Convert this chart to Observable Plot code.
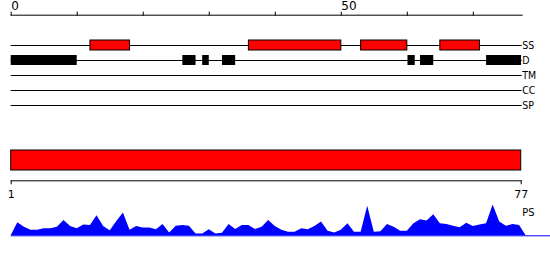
<!DOCTYPE html>
<html><head><meta charset="utf-8">
<script src="https://cdn.jsdelivr.net/npm/d3@7"></script>
<script src="https://cdn.jsdelivr.net/npm/@observablehq/plot@0.6"></script>
<style>
html,body{margin:0;padding:0;background:#fff;}
#chart{position:relative;width:550px;height:260px;overflow:hidden;}
#chart svg{position:absolute;left:0;top:0;}
</style></head><body><div id="chart"></div>
<script>
// ---- data ----
const seqLength = 77;
const axisMax = 77.4;
const trackNames = ["SS", "D", "TM", "CC", "SP"];
const ssStart = [12, 36, 53, 65];
const ssEnd = [18, 50, 60, 71];
const disStart = [0, 26, 29, 32, 60.1, 62, 72];
const disEnd = [10, 28, 30, 34, 61.2, 64, 77.3];
const axisTicks = [0, 10, 20, 30, 40, 50, 60, 70];
const axisLabels = [0, 50];
const rangeTicks = [1, 77];
const chainStart = [1];
const chainEnd = [77];
const psPos = [0,1,2,3,4,5,6,7,8,9,10,11,12,13,14,15,16,17,18,19,20,21,22,23,24,25,26,27,28,29,30,31,32,33,34,35,36,37,38,39,40,41,42,43,44,45,46,47,48,49,50,51,52,53,54,55,56,57,58,59,60,61,62,63,64,65,66,67,68,69,70,71,72,73,74,75,76,77,78];
const psValue = [0,.41,.27,.17,.17,.22,.22,.27,.48,.29,.22,.34,.32,.63,.29,.16,.45,.71,.17,.29,.24,.24,.19,.35,.09,.30,.32,.30,.06,.06,.19,.06,.08,.35,.20,.32,.32,.20,.27,.48,.29,.17,.11,.11,.22,.19,.29,.43,.14,.09,.17,.38,.11,.11,.92,.11,.13,.35,.27,.14,.14,.38,.50,.46,.66,.38,.35,.30,.25,.39,.29,.34,.38,.96,.43,.30,.35,.32,0];

// ---- tables ----
const ssData = ssStart.map((s, i) => ({track: "SS", start: s, end: ssEnd[i]}));
const disData = disStart.map((s, i) => ({track: "D", start: s, end: disEnd[i]}));
const chain = chainStart.map((s, i) => ({row: "chain", start: s, end: chainEnd[i]}));
const ps = psPos.map((p, i) => ({pos: p, value: psValue[i]}));

const labelFont = "'Liberation Sans Narrow', 'DejaVu Sans Condensed', sans-serif";
const numFont = "'DejaVu Sans', sans-serif";
const root = document.getElementById("chart");

const tracksPlot = Plot.plot({
  width: 550, height: 260,
  marginTop: 14.7, marginLeft: 10.7, marginRight: 28.3, marginBottom: 0,
  style: {background: "transparent", fontFamily: numFont, fontSize: "12px", color: "black"},
  x: {domain: [0, axisMax]},
  y: {type: "band", domain: trackNames, range: [37.8, 112.8], paddingInner: 1/3, paddingOuter: 1/6, axis: null},
  marks: [
    Plot.frame({anchor: "top", stroke: "black"}),
    Plot.axisX({anchor: "top", ticks: axisTicks, tickSize: 4, tickPadding: 1,
      tickFormat: d => axisLabels.includes(d) ? String(d) : "", textAnchor: "start", fontSize: 12}),
    Plot.ruleY(trackNames, {y: d => d, stroke: "black"}),
    Plot.barX(ssData, {x1: "start", x2: "end", y: "track", fill: "red", stroke: "black"}),
    Plot.barX(disData, {x1: "start", x2: "end", y: "track", fill: "black"}),
    Plot.text(trackNames, {y: d => d, frameAnchor: "right", textAnchor: "start", dx: 0,
      fontSize: 10.5, fontFamily: labelFont, fill: "black"})
  ]
});

const chainPlot = Plot.plot({
  width: 550, height: 260,
  marginTop: 0, marginLeft: 10.7, marginRight: 29.3, marginBottom: 79.7,
  style: {background: "transparent", fontFamily: numFont, fontSize: "11px", color: "black"},
  x: {domain: [1, seqLength]},
  y: {type: "band", domain: ["chain"], range: [150.3, 170.3], padding: 0, axis: null},
  marks: [
    Plot.barX(chain, {x1: "start", x2: "end", y: "row", fill: "red", stroke: "black"}),
    Plot.frame({anchor: "bottom", stroke: "black"}),
    Plot.axisX({anchor: "bottom", ticks: rangeTicks, tickSize: 4, tickPadding: 5, fontSize: 11})
  ]
});

const psPlot = Plot.plot({
  width: 550, height: 260,
  marginTop: 203.3, marginBottom: 24.7, marginLeft: 10.7, marginRight: 0,
  style: {background: "transparent", fontFamily: labelFont, fontSize: "11px", color: "black"},
  x: {domain: [0, axisMax], range: [10.7, 521.7], axis: null},
  y: {domain: [0, 1], axis: null},
  marks: [
    Plot.areaY(ps, {x: "pos", y: "value", fill: "blue"}),
    Plot.ruleY([0], {stroke: "blue"}),
    Plot.text(["PS"], {x: axisMax, y: 0.74, textAnchor: "start", fontSize: 11, fill: "black"})
  ]
});

root.append(tracksPlot, chainPlot, psPlot);
</script>
</body></html>
